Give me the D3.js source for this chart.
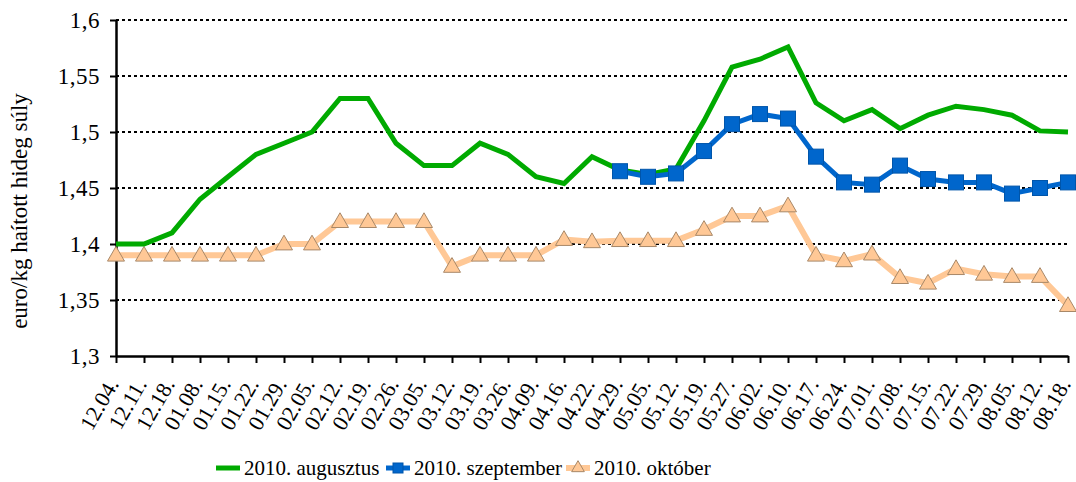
<!DOCTYPE html>
<html>
<head>
<meta charset="utf-8">
<script src="https://cdn.jsdelivr.net/npm/d3@7"></script>
<style>
  body { margin: 0; background: #fff; }
  svg text { font-family: "Liberation Serif", "DejaVu Serif", serif; fill: #000; }
</style>
</head>
<body>
<div id="main"></div>
<script>
// dátumok (x tengely)
const weeks = ['12.04.', '12.11.', '12.18.', '01.08.', '01.15.', '01.22.', '01.29.', '02.05.', '02.12.', '02.19.',
               '02.26.', '03.05.', '03.12.', '03.19.', '03.26.', '04.09.', '04.16.', '04.22.', '04.29.', '05.05.',
               '05.12.', '05.19.', '05.27.', '06.02.', '06.10.', '06.17.', '06.24.', '07.01.', '07.08.', '07.15.',
               '07.22.', '07.29.', '08.05.', '08.12.', '08.18.'];

const augusztus = [1.40, 1.40, 1.41, 1.44, 1.46, 1.48, 1.49, 1.50, 1.53, 1.53,
                   1.49, 1.47, 1.47, 1.49, 1.48, 1.46, 1.454, 1.478, 1.466, 1.462,
                   1.467, 1.51, 1.558, 1.565, 1.576, 1.526, 1.51, 1.52, 1.503, 1.515,
                   1.523, 1.52, 1.515, 1.501, 1.50];

const szeptember = [null, null, null, null, null, null, null, null, null, null,
                    null, null, null, null, null, null, null, null, 1.465, 1.46,
                    1.463, 1.483, 1.507, 1.516, 1.512, 1.478, 1.455, 1.453, 1.47, 1.458,
                    1.455, 1.455, 1.445, 1.45, 1.455];

const oktober = [1.39, 1.39, 1.39, 1.39, 1.39, 1.39, 1.40, 1.40, 1.42, 1.42,
                 1.42, 1.42, 1.38, 1.39, 1.39, 1.39, 1.404, 1.402, 1.403, 1.403,
                 1.403, 1.413, 1.425, 1.425, 1.434, 1.39, 1.385, 1.391, 1.37, 1.365,
                 1.378, 1.373, 1.371, 1.371, 1.345];

const yTicks = [1.3, 1.35, 1.4, 1.45, 1.5, 1.55, 1.6];
const yLabel = 'euro/kg haított hideg súly';
const seriesNames = ['2010. augusztus', '2010. szeptember', '2010. október'];

const width = 1076, height = 482;
const m = { left: 116, right: 1068, top: 20, bottom: 356 };

const svg = d3.select('#main')
    .append('svg')
    .attr('width', width)
    .attr('height', height);

const xScale = d3.scalePoint().domain(weeks).range([m.left, m.right]);
const yScale = d3.scaleLinear().domain([1.3, 1.6]).range([m.bottom, m.top]);

// rácsvonalak
svg.append('g')
    .selectAll('line')
    .data(yTicks.filter(d => d > 1.3))
    .enter()
    .append('line')
    .attr('x1', m.left)
    .attr('x2', m.right)
    .attr('y1', d => yScale(d))
    .attr('y2', d => yScale(d))
    .attr('stroke', '#000')
    .attr('stroke-width', 2)
    .attr('stroke-dasharray', '3,3');

// y tengely
const yAxis = d3.axisLeft(yScale)
    .tickValues(yTicks)
    .tickSize(6)
    .tickSizeOuter(0)
    .tickPadding(10)
    .tickFormat(d => String(d).replace('.', ','));

const gy = svg.append('g')
    .attr('transform', `translate(${m.left},0)`)
    .call(yAxis);
gy.select('.domain').attr('stroke-width', 2.5);
gy.selectAll('line').attr('stroke-width', 2);
gy.selectAll('text').style('font-size', '23px').attr('letter-spacing', '0.5px');

// x tengely
const xAxis = d3.axisBottom(xScale).tickSize(7).tickSizeOuter(0);
const gx = svg.append('g')
    .attr('transform', `translate(0,${m.bottom})`)
    .call(xAxis);
gx.select('.domain').attr('stroke-width', 2.5);
gx.selectAll('line').attr('stroke-width', 2);
gx.selectAll('text')
    .style('font-size', '22px')
    .style('text-anchor', 'end')
    .attr('x', 0)
    .attr('y', 0)
    .attr('dy', 0)
    .attr('transform', 'translate(3,28) rotate(-60)');

// tengelyfelirat
svg.append('text')
    .attr('transform', 'rotate(-90)')
    .attr('x', -211)
    .attr('y', 27)
    .attr('text-anchor', 'middle')
    .style('font-size', '23px')
    .text(yLabel);

const line = d3.line()
    .defined(d => d.y !== null)
    .x(d => xScale(d.x))
    .y(d => yScale(d.y));

const toPoints = arr => arr.map((v, i) => ({ x: weeks[i], y: v }));

// október
svg.append('path')
    .datum(toPoints(oktober))
    .attr('fill', 'none')
    .attr('stroke', '#FFC896')
    .attr('stroke-width', 6)
    .attr('stroke-linejoin', 'round')
    .attr('d', line);

const tri = d3.symbol().type(d3.symbolTriangle).size(125);
svg.append('g')
    .selectAll('path')
    .data(toPoints(oktober))
    .enter()
    .append('path')
    .attr('d', tri)
    .attr('transform', d => `translate(${xScale(d.x)},${yScale(d.y) + 1})`)
    .attr('fill', '#FFC896')
    .attr('stroke', '#A88868')
    .attr('stroke-width', 1);

// augusztus
svg.append('path')
    .datum(toPoints(augusztus))
    .attr('fill', 'none')
    .attr('stroke', '#00AA00')
    .attr('stroke-width', 5)
    .attr('d', line);

// szeptember
const szPoints = toPoints(szeptember).filter(d => d.y !== null);
svg.append('path')
    .datum(szPoints)
    .attr('fill', 'none')
    .attr('stroke', '#0066CC')
    .attr('stroke-width', 5)
    .attr('d', line);

svg.append('g')
    .selectAll('rect')
    .data(szPoints)
    .enter()
    .append('rect')
    .attr('x', d => xScale(d.x) - 7.5)
    .attr('y', d => yScale(d.y) - 7.5)
    .attr('width', 15)
    .attr('height', 15)
    .attr('fill', '#0066CC')
    .attr('stroke', '#0055AA')
    .attr('stroke-width', 1);

// jelmagyarázat
const legendY = 468;
const legend = svg.append('g');
const legendX = [216, 386, 566];
const legendColors = ['#00AA00', '#0066CC', '#FFC896'];
seriesNames.forEach((name, i) => {
    const g = legend.append('g').attr('transform', `translate(${legendX[i]},${legendY})`);
    g.append('line')
        .attr('x1', 0).attr('x2', 24)
        .attr('stroke', legendColors[i])
        .attr('stroke-width', i === 2 ? 6 : 5);
    if (i === 1) {
        g.append('rect').attr('x', 7).attr('y', -5).attr('width', 10).attr('height', 10)
            .attr('fill', '#0066CC').attr('stroke', '#0055AA');
    }
    if (i === 2) {
        g.append('path').attr('d', d3.symbol().type(d3.symbolTriangle).size(70))
            .attr('transform', 'translate(12,0)')
            .attr('fill', '#FFC896').attr('stroke', '#A88868');
    }
    g.append('text')
        .attr('x', 28)
        .attr('y', 7)
        .style('font-size', '21px')
        .text(name);
});
</script>
</body>
</html>
